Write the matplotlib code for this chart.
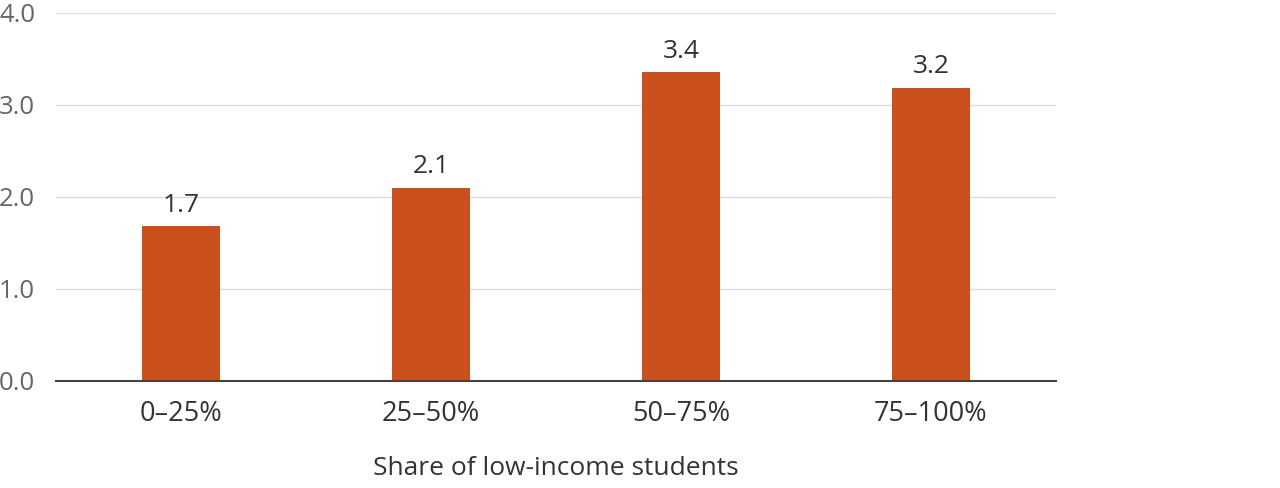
import matplotlib
matplotlib.use("Agg")
import matplotlib.pyplot as plt

# Datos
categorias = ["0–25%", "25–50%", "50–75%", "75–100%"]
valores = [1.68, 2.10, 3.36, 3.19]
yticks = [0.0, 1.0, 2.0, 3.0, 4.0]

COLOR_BARRA = "#C94F1C"
COLOR_TEXTO = "#333333"
COLOR_TICK = "#666666"

plt.rcParams["font.family"] = ["Open Sans", "DejaVu Sans"]

fig = plt.figure(figsize=(12.8, 4.88), dpi=100)
ax = fig.add_axes([0.04375, 0.2193, 0.78125, 0.7541])

x = range(len(categorias))
barras = ax.bar(x, valores, width=0.315, color=COLOR_BARRA, zorder=3)

# Etiquetas sobre las barras
for b, v in zip(barras, valores):
    ax.annotate(f"{v:.1f}", (b.get_x() + b.get_width() / 2, v),
                xytext=(0, 6), textcoords="offset points",
                ha="center", va="bottom", fontsize=19, color=COLOR_TEXTO)

ax.set_xlim(-0.5, len(categorias) - 0.5)
ax.set_ylim(0, 4.0)
ax.set_yticks(yticks)
ax.set_yticklabels([f"{t:.1f}" for t in yticks])
ax.set_xticks(list(x))
ax.set_xticklabels(categorias)

ax.grid(axis="y", color="#dddddd", linewidth=1, zorder=0)
for s in ["top", "right", "left"]:
    ax.spines[s].set_visible(False)
ax.spines["bottom"].set_color("#444444")
ax.spines["bottom"].set_linewidth(1.5)
ax.spines["bottom"].set_zorder(4)

ax.tick_params(axis="y", length=0, pad=15, labelsize=18.5, labelcolor=COLOR_TICK)
ax.tick_params(axis="x", length=0, pad=14, labelsize=19.5, labelcolor=COLOR_TEXTO)

ax.set_xlabel("Share of low-income students", fontsize=19, color=COLOR_TEXTO, labelpad=20)

fig.savefig("out.png", dpi=100)
